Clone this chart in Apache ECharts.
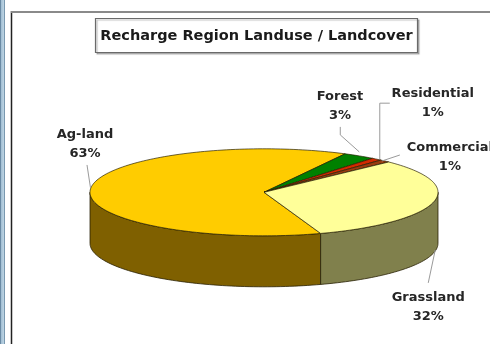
<!DOCTYPE html>
<html><head><meta charset="utf-8">
<script src="https://cdn.jsdelivr.net/npm/echarts@6/dist/echarts.min.js"></script>
<style>html,body{margin:0;padding:0;background:#fff}#c{width:490px;height:344px}</style>
</head><body><div id="c"></div>
<script>
// ---- data ----
const categories = ['Ag-land', 'Forest', 'Residential', 'Commercial', 'Grassland'];
const values = [63, 3, 1, 1, 32];
const titleText = 'Recharge Region Landuse / Landcover';

// ---- styles / layout ----
const topColors = ['#FFCC00', '#008000', '#D42A00', '#9A3C10', '#FFFF99'];
const sideColors = ['#7F6000', '#004000', '#6A1500', '#4D1E08', '#80804C'];
const G = {cx: 264, cy: 192.3, rx: 174, ry: 43.5, depth: 51, start: 71};
const FONT = 'bold 13px "DejaVu Sans"';
// label offsets relative to the slice's rim anchor
const labelLayout = [
  {dx: -5.5, dy: -44.5, line: [[0, -1], [-3.5, -24]]},
  {dx: -19.3, dy: -50, line: [[0, -4], [-19, -21], [-19, -29]]},
  {dx: 56, dy: -55.6, line: [[3, 0], [3, -56], [13, -56]]},
  {dx: 65, dy: -3.5, line: [[-3, 0], [15, -6]]},
  {dx: -5, dy: 79, line: [[2, 22], [-5, 55]]}
];

const total = values.reduce((a, b) => a + b, 0);
function sliceAngles(i) {
  let before = 0;
  for (let k = 0; k < i; k++) before += values[k];
  const a = G.start + before / total * 360;
  return [a, a + values[i] / total * 360];
}
function pt(deg, dy) {
  const r = deg * Math.PI / 180;
  return [G.cx + G.rx * Math.cos(r), G.cy + G.ry * Math.sin(r) + (dy || 0)];
}
function arc(a, b, dy) {
  const n = Math.max(2, Math.ceil(Math.abs(b - a) / 1.5));
  const pts = [];
  for (let j = 0; j <= n; j++) pts.push(pt(a + (b - a) * j / n, dy));
  return pts;
}
const STROKE = 'rgba(35,28,0,0.85)';

function renderSide(params) {
  const i = params.dataIndex;
  const [a, b] = sliceAngles(i);
  const children = [];
  [[0, 180], [360, 540], [-360, -180]].forEach(([r0, r1]) => {
    const lo = Math.max(a, r0), hi = Math.min(b, r1);
    if (hi > lo) {
      children.push({
        type: 'polygon',
        shape: {points: arc(lo, hi, 0).concat(arc(hi, lo, G.depth))},
        style: {fill: sideColors[i], stroke: STROKE, lineWidth: 0.9, lineJoin: 'round'}
      });
    }
  });
  return {type: 'group', children};
}
function renderTop(params) {
  const i = params.dataIndex;
  const [a, b] = sliceAngles(i);
  return {
    type: 'polygon',
    shape: {points: [[G.cx, G.cy]].concat(arc(a, b, 0))},
    style: {fill: topColors[i], stroke: STROKE, lineWidth: 0.8, lineJoin: 'round'}
  };
}
function renderLabel(params, api) {
  const i = params.dataIndex;
  const [a, b] = sliceAngles(i);
  const m = (a + b) / 2;
  const front = Math.sin(m * Math.PI / 180) > 0;
  const anchor = pt(m, front ? G.depth / 2 : 0);
  const L = labelLayout[i];
  const pct = Math.round(api.value(0) / total * 100) + '%';
  return {
    type: 'group',
    children: [
      {type: 'polyline', shape: {points: L.line.map(p => [anchor[0] + p[0], anchor[1] + p[1]])},
       style: {stroke: '#9a9a9a', lineWidth: 1, fill: null}},
      {type: 'text', x: anchor[0] + L.dx, y: anchor[1] + L.dy,
       style: {text: categories[i] + '\n' + pct, font: FONT, fill: '#262626',
               align: 'center', verticalAlign: 'middle', lineHeight: 19}}
    ]
  };
}

const chart = echarts.init(document.getElementById('c'), null, {renderer: 'canvas'});
chart.setOption({
  backgroundColor: '#fff',
  animation: false,
  graphic: [
    {type: 'rect', shape: {x: 0, y: 0, width: 5, height: 344},
     style: {fill: new echarts.graphic.LinearGradient(0, 0, 1, 0, [
       {offset: 0, color: '#4d6f8c'}, {offset: 0.3, color: '#a6c2d6'},
       {offset: 0.7, color: '#b9d1e1'}, {offset: 1, color: '#5a7c97'}])}},
    {type: 'line', shape: {x1: 11.5, y1: 11, x2: 11.5, y2: 344}, style: {stroke: '#222', lineWidth: 1.5}},
    {type: 'line', shape: {x1: 11, y1: 12, x2: 490, y2: 12}, style: {stroke: '#8a8a8a', lineWidth: 2}},
    {type: 'rect', shape: {x: 95.5, y: 18.5, width: 322, height: 34},
     style: {fill: '#fff', stroke: '#6a6a6a', lineWidth: 1.2, shadowColor: 'rgba(0,0,0,0.25)', shadowOffsetX: 1.5, shadowOffsetY: 1.5, shadowBlur: 1}},
    {type: 'text', x: 256.5, y: 36,
     style: {text: titleText, font: 'bold 14.5px "DejaVu Sans"', fill: '#1a1a1a', align: 'center', verticalAlign: 'middle'}}
  ],
  series: [
    {type: 'custom', coordinateSystem: 'none', z: 2, data: values, renderItem: renderSide, silent: true},
    {type: 'custom', coordinateSystem: 'none', z: 3, data: values, renderItem: renderTop, silent: true},
    {type: 'custom', coordinateSystem: 'none', z: 4, data: values, renderItem: renderLabel, silent: true}
  ]
});
</script>
</body></html>
